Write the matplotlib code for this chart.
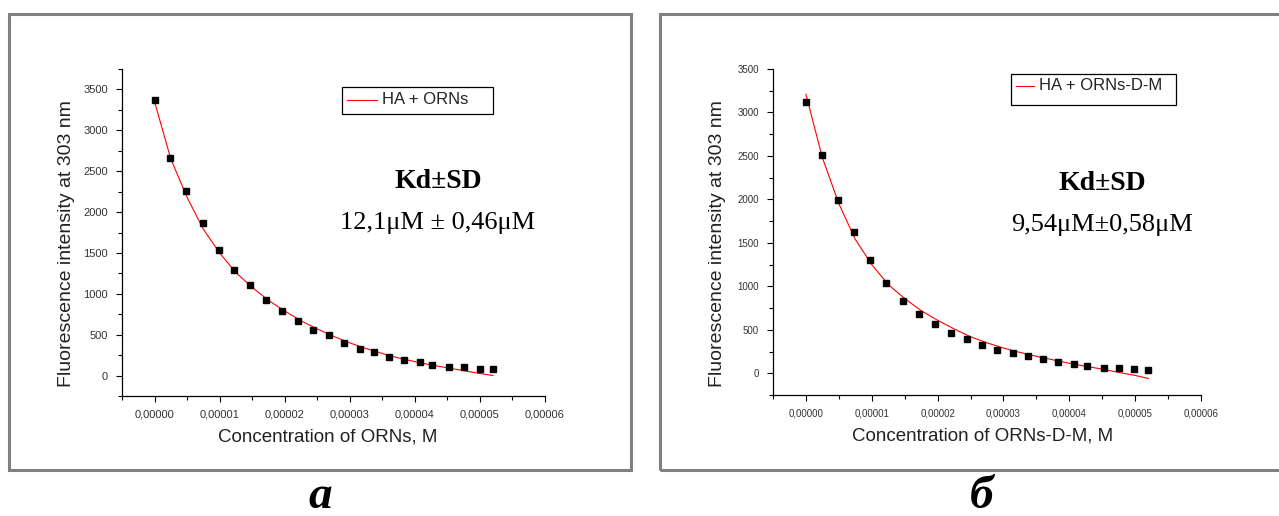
import matplotlib
matplotlib.use("Agg")
import matplotlib.pyplot as plt
from matplotlib.patches import Rectangle
from matplotlib.ticker import MultipleLocator, FuncFormatter

# concentrations (units of 1e-5 M) and measured fluorescence, panel a
conc_a = [0, 0.245, 0.484, 0.742, 0.987, 1.22, 1.47, 1.72, 1.96, 2.2, 2.44, 2.68,
          2.91, 3.16, 3.38, 3.61, 3.84, 4.08, 4.26, 4.53, 4.76, 5.0, 5.2]
fluo_a = [3365, 2660, 2255, 1865, 1535, 1290, 1110, 925, 795, 665, 560, 495,
          400, 330, 285, 230, 185, 160, 135, 110, 100, 80, 75]

# panel b
conc_b = [0, 0.24, 0.49, 0.73, 0.98, 1.22, 1.47, 1.71, 1.96, 2.2, 2.44, 2.68,
          2.9, 3.14, 3.37, 3.6, 3.83, 4.07, 4.27, 4.52, 4.75, 4.98, 5.2]
fluo_b = [3125, 2515, 1990, 1630, 1300, 1035, 830, 680, 570, 460, 395, 325,
          270, 230, 200, 165, 130, 105, 85, 65, 55, 45, 40]

# fitted curves, sampled every 0.25e-5 M
fit_x = [0, 0.25, 0.5, 0.75, 1.0, 1.25, 1.5, 1.75, 2.0, 2.25, 2.5, 2.75,
         3.0, 3.25, 3.5, 3.75, 4.0, 4.25, 4.5, 4.75, 5.0, 5.2]
fit_a = [3350, 2650, 2180, 1790, 1500, 1260, 1080, 920, 790, 670, 570, 480,
         400, 330, 270, 215, 170, 130, 95, 60, 25, 0]
fit_b = [3210, 2480, 1950, 1540, 1250, 1020, 860, 720, 610, 510, 420, 350,
         290, 240, 195, 155, 115, 80, 48, 10, -25, -60]

scale = 1e-5
xticks = [0, 1e-5, 2e-5, 3e-5, 4e-5, 5e-5, 6e-5]

W, H = 1279, 516
fig = plt.figure(figsize=(W / 100, H / 100), dpi=100)

sans = "Liberation Sans"
serif = "Liberation Serif"


def comma_fmt(v, pos):
    return f"{v:.5f}".replace(".", ",")


def panel(rect, xs, ys, fx, fy, ylim, tick_fs, ms, legend_label, kd_text,
          xlabel, ylabel_x, xlabel_y, legend_box, kd_xy):
    ax = fig.add_axes(rect)
    ax.plot([v * scale for v in fx], fy, color="red", lw=0.8, label=legend_label)
    ax.plot([v * scale for v in xs], ys, "s", color="black", ms=ms, ls="none")
    ax.set_xlim(-0.5e-5, 6e-5)
    ax.set_ylim(*ylim)
    for s in ("top", "right"):
        ax.spines[s].set_visible(False)
    for s in ("left", "bottom"):
        ax.spines[s].set_linewidth(0.9)
    ax.set_xticks(xticks)
    ax.xaxis.set_major_formatter(FuncFormatter(comma_fmt))
    ax.xaxis.set_minor_locator(MultipleLocator(0.5e-5))
    ax.yaxis.set_major_locator(MultipleLocator(500))
    ax.yaxis.set_minor_locator(MultipleLocator(250))
    ax.tick_params(which="major", length=4, width=0.8, labelsize=tick_fs,
                   labelcolor="#333333", pad=6)
    ax.tick_params(which="minor", length=3, width=0.8)
    for lab in ax.get_xticklabels() + ax.get_yticklabels():
        lab.set_family(sans)

    # axis titles placed in figure pixels
    fig.text(ylabel_x / W, 1 - 244 / H, "Fluorescence intensity at 303 nm",
             rotation=90, ha="center", va="center", fontsize=14,
             family=sans, color="#222222")
    fig.text(xlabel[1] / W, 1 - xlabel_y / H, xlabel[0], ha="center",
             va="center", fontsize=13.5, family=sans, color="#222222")

    # legend box
    lx0, ly0, lx1, ly1, line_len, text_y = legend_box
    fig.patches.append(Rectangle((lx0 / W, 1 - ly1 / H), (lx1 - lx0) / W,
                                 (ly1 - ly0) / H, transform=fig.transFigure,
                                 fill=False, edgecolor="black", lw=0.9))
    fig.lines.append(plt.Line2D([(lx0 + 5) / W, (lx0 + 5 + line_len) / W],
                                [1 - text_y / H, 1 - text_y / H],
                                transform=fig.transFigure, color="red", lw=0.8))
    fig.text((lx0 + 10 + line_len) / W, 1 - text_y / H, legend_label,
             ha="left", va="center", fontsize=12, family=sans, color="#222222")

    kx, ky1, ky2 = kd_xy
    fig.text(kx / W, 1 - ky1 / H, "Kd±SD", ha="center", va="center",
             fontsize=20, fontweight="bold", family=serif)
    fig.text(kx / W, 1 - ky2 / H, kd_text, ha="center", va="center",
             fontsize=19, family=serif)
    return ax


panel([122 / W, 1 - 396 / H, 423 / W, 327 / H], conc_a, fluo_a, fit_x, fit_a,
      (-250, 3750), 8, 4.6, "HA + ORNs", "12,1μM ± 0,46μM",
      ("Concentration of ORNs, M", 328), 67, 437,
      (342, 87, 493, 114, 30, 100), (438, 182, 223))

panel([773 / W, 1 - 395 / H, 428 / W, 326 / H], conc_b, fluo_b, fit_x, fit_b,
      (-250, 3500), 7, 5.0, "HA + ORNs-D-M", "9,54μM±0,58μM",
      ("Concentration of ORNs-D-M, M", 983), 717, 436,
      (1011, 74, 1176, 105, 18, 86), (1102, 183, 225))

# grey frames around each panel
for x0, x1 in ((9, 631), (660, 1295)):
    fig.patches.append(Rectangle((x0 / W, 1 - 470 / H), (x1 - x0) / W,
                                 456 / H, transform=fig.transFigure,
                                 fill=False, edgecolor="#808080", lw=2.2))

# panel letters
fig.text(320 / W, 1 - 508 / H, "а", ha="center", va="baseline", fontsize=34,
         fontweight="bold", fontstyle="italic", family=serif)
fig.text(982 / W, 1 - 508 / H, "б", ha="center", va="baseline", fontsize=34,
         fontweight="bold", fontstyle="italic", family=serif)

fig.savefig("out.png", dpi=100)
